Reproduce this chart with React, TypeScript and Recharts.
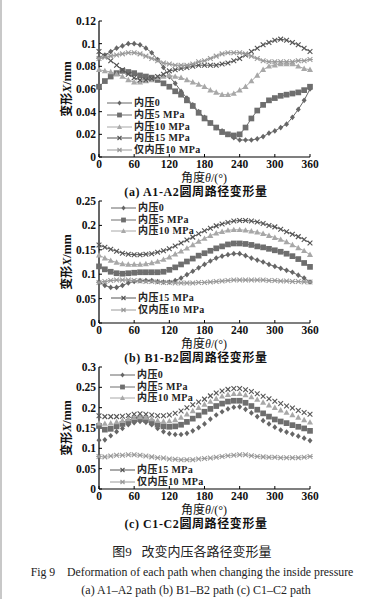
import React from 'react';
import { LineChart, Line, XAxis, YAxis } from 'recharts';

const SERIF = '"Liberation Serif", "Times New Roman", serif';
const CJK = '"Noto Sans CJK SC", sans-serif';

// angle categories, every 10 degrees
const angles = [
  0, 10, 20, 30, 40, 50, 60, 70, 80, 90, 100, 110, 120, 130, 140, 150, 160, 170, 180,
  190, 200, 210, 220, 230, 240, 250, 260, 270, 280, 290, 300, 310, 320, 330, 340, 350, 360,
];
const xTicks = [0, 60, 120, 180, 240, 300, 360];

const seriesNames = ['内压0', '内压5 MPa', '内压10 MPa', '内压15 MPa', '仅内压10 MPa'];
const seriesColors = ['#666666', '#6e6e6e', '#a8a8a8', '#555555', '#9a9a9a'];
const seriesShapes = ['diamond', 'square', 'triangle', 'cross', 'star'];

// (a) A1-A2
const a0 = [0.088, 0.09, 0.093, 0.096, 0.098, 0.1, 0.1, 0.099, 0.096, 0.092, 0.086, 0.079, 0.071, 0.065, 0.058, 0.052, 0.046, 0.04, 0.035, 0.03, 0.026, 0.023, 0.02, 0.017, 0.015, 0.015, 0.015, 0.016, 0.018, 0.021, 0.023, 0.026, 0.029, 0.035, 0.042, 0.05, 0.06];
const a5 = [0.062, 0.067, 0.071, 0.074, 0.076, 0.075, 0.074, 0.072, 0.071, 0.07, 0.068, 0.065, 0.062, 0.058, 0.055, 0.05, 0.045, 0.039, 0.034, 0.03, 0.026, 0.022, 0.02, 0.019, 0.02, 0.026, 0.034, 0.041, 0.046, 0.05, 0.052, 0.054, 0.055, 0.056, 0.057, 0.059, 0.062];
const a10 = [0.077, 0.076, 0.075, 0.073, 0.071, 0.068, 0.066, 0.066, 0.067, 0.068, 0.07, 0.071, 0.072, 0.071, 0.07, 0.068, 0.066, 0.064, 0.062, 0.059, 0.057, 0.055, 0.055, 0.056, 0.059, 0.062, 0.067, 0.072, 0.077, 0.08, 0.081, 0.082, 0.082, 0.082, 0.08, 0.078, 0.077];
const a15 = [0.093, 0.089, 0.085, 0.081, 0.077, 0.073, 0.07, 0.068, 0.068, 0.069, 0.071, 0.073, 0.076, 0.077, 0.078, 0.079, 0.08, 0.081, 0.081, 0.081, 0.081, 0.082, 0.083, 0.085, 0.087, 0.09, 0.093, 0.096, 0.099, 0.101, 0.103, 0.104, 0.103, 0.101, 0.099, 0.096, 0.093];
const aOnly = [0.087, 0.088, 0.089, 0.09, 0.091, 0.092, 0.092, 0.091, 0.089, 0.087, 0.085, 0.083, 0.082, 0.081, 0.081, 0.081, 0.082, 0.084, 0.085, 0.087, 0.089, 0.091, 0.092, 0.092, 0.092, 0.091, 0.089, 0.087, 0.085, 0.084, 0.084, 0.084, 0.084, 0.084, 0.085, 0.085, 0.086];

// (b) B1-B2
const b0 = [0.084, 0.077, 0.073, 0.073, 0.077, 0.082, 0.085, 0.087, 0.087, 0.087, 0.085, 0.084, 0.084, 0.087, 0.092, 0.099, 0.106, 0.113, 0.12, 0.127, 0.133, 0.137, 0.14, 0.142, 0.142, 0.138, 0.133, 0.129, 0.125, 0.12, 0.116, 0.112, 0.108, 0.104, 0.098, 0.092, 0.084];
const b5 = [0.116, 0.11, 0.105, 0.102, 0.101, 0.102, 0.103, 0.104, 0.104, 0.104, 0.104, 0.105, 0.109, 0.114, 0.12, 0.126, 0.132, 0.138, 0.143, 0.148, 0.153, 0.157, 0.161, 0.163, 0.163, 0.162, 0.16, 0.157, 0.155, 0.152, 0.149, 0.146, 0.142, 0.137, 0.131, 0.123, 0.115];
const b10 = [0.139, 0.133, 0.128, 0.124, 0.121, 0.12, 0.12, 0.12, 0.121, 0.123, 0.126, 0.13, 0.135, 0.141, 0.147, 0.153, 0.16, 0.167, 0.173, 0.179, 0.184, 0.187, 0.19, 0.191, 0.191, 0.19, 0.188, 0.186, 0.183, 0.179, 0.175, 0.171, 0.166, 0.16, 0.154, 0.148, 0.14];
const b15 = [0.16, 0.155, 0.151, 0.147, 0.143, 0.141, 0.14, 0.14, 0.141, 0.142, 0.145, 0.148, 0.152, 0.158, 0.164, 0.17, 0.176, 0.183, 0.189, 0.194, 0.199, 0.203, 0.206, 0.209, 0.21, 0.21, 0.209, 0.207, 0.204, 0.2, 0.197, 0.192, 0.187, 0.182, 0.177, 0.171, 0.164];
const bOnly = [0.083, 0.085, 0.087, 0.088, 0.088, 0.088, 0.087, 0.086, 0.085, 0.085, 0.084, 0.083, 0.083, 0.082, 0.082, 0.082, 0.082, 0.083, 0.083, 0.084, 0.085, 0.086, 0.087, 0.088, 0.088, 0.088, 0.088, 0.088, 0.088, 0.087, 0.087, 0.086, 0.086, 0.085, 0.085, 0.084, 0.084];

// (c) C1-C2
const c0 = [0.12, 0.121, 0.131, 0.141, 0.149, 0.158, 0.163, 0.166, 0.164, 0.158, 0.149, 0.141, 0.136, 0.134, 0.134, 0.137, 0.143, 0.151, 0.16, 0.172, 0.182, 0.19, 0.197, 0.201, 0.202, 0.196, 0.187, 0.178, 0.168, 0.16, 0.152, 0.145, 0.14, 0.135, 0.13, 0.125, 0.119];
const c5 = [0.155, 0.146, 0.148, 0.154, 0.16, 0.165, 0.17, 0.172, 0.17, 0.164, 0.158, 0.154, 0.153, 0.154, 0.158, 0.165, 0.173, 0.181, 0.19, 0.197, 0.204, 0.21, 0.215, 0.217, 0.217, 0.212, 0.204, 0.195, 0.186, 0.178, 0.171, 0.166, 0.162, 0.157, 0.153, 0.149, 0.143];
const c10 = [0.162, 0.161, 0.162, 0.165, 0.168, 0.172, 0.175, 0.177, 0.176, 0.172, 0.168, 0.166, 0.167, 0.17, 0.176, 0.184, 0.192, 0.2, 0.208, 0.215, 0.222, 0.228, 0.232, 0.234, 0.234, 0.231, 0.226, 0.22, 0.213, 0.206, 0.2, 0.194, 0.188, 0.182, 0.176, 0.17, 0.164];
const c15 = [0.18, 0.178, 0.178, 0.178, 0.179, 0.181, 0.184, 0.185, 0.184, 0.182, 0.18, 0.18, 0.182, 0.186, 0.192, 0.2, 0.207, 0.214, 0.221, 0.229, 0.236, 0.241, 0.245, 0.247, 0.247, 0.244, 0.24, 0.234, 0.228, 0.222, 0.216, 0.21, 0.204, 0.199, 0.193, 0.188, 0.184];
const cOnly = [0.08, 0.079, 0.081, 0.083, 0.083, 0.084, 0.084, 0.083, 0.081, 0.079, 0.077, 0.076, 0.074, 0.073, 0.072, 0.072, 0.072, 0.074, 0.075, 0.076, 0.078, 0.08, 0.082, 0.083, 0.084, 0.084, 0.082, 0.08, 0.079, 0.078, 0.078, 0.077, 0.077, 0.077, 0.077, 0.078, 0.08];

const yTicksA = [0, 0.02, 0.04, 0.06, 0.08, 0.1, 0.12];
const yTicksB = [0, 0.05, 0.1, 0.15, 0.2, 0.25];
const yTicksC = [0, 0.05, 0.1, 0.15, 0.2, 0.25, 0.3];

const keys = ['s0', 's5', 's10', 's15', 'only'];

function buildRows(series: number[][]) {
  return angles.map((angle, i) => {
    const row: any = { angle };
    keys.forEach((k, j) => (row[k] = series[j][i]));
    return row;
  });
}

const dataA = buildRows([a0, a5, a10, a15, aOnly]);
const dataB = buildRows([b0, b5, b10, b15, bOnly]);
const dataC = buildRows([c0, c5, c10, c15, cOnly]);

function Marker({ shape, color, cx, cy, s = 1 }: any) {
  if (cx == null || cy == null) return <g />;
  switch (shape) {
    case 'diamond':
      return <polygon points={`${cx},${cy - 3 * s} ${cx + 2.6 * s},${cy} ${cx},${cy + 3 * s} ${cx - 2.6 * s},${cy}`} fill={color} />;
    case 'square':
      return <rect x={cx - 3 * s} y={cy - 3 * s} width={6 * s} height={6 * s} fill={color} />;
    case 'triangle':
      return <polygon points={`${cx},${cy - 3.3 * s} ${cx + 3.2 * s},${cy + 2.4 * s} ${cx - 3.2 * s},${cy + 2.4 * s}`} fill={color} />;
    case 'cross':
      return (
        <g stroke={color} strokeWidth={1.1}>
          <line x1={cx - 2.5 * s} y1={cy - 2.5 * s} x2={cx + 2.5 * s} y2={cy + 2.5 * s} />
          <line x1={cx - 2.5 * s} y1={cy + 2.5 * s} x2={cx + 2.5 * s} y2={cy - 2.5 * s} />
        </g>
      );
    default:
      return (
        <g stroke={color} strokeWidth={1.1}>
          <line x1={cx - 2.5 * s} y1={cy - 2.5 * s} x2={cx + 2.5 * s} y2={cy + 2.5 * s} />
          <line x1={cx - 2.5 * s} y1={cy + 2.5 * s} x2={cx + 2.5 * s} y2={cy - 2.5 * s} />
          <line x1={cx - 3 * s} y1={cy} x2={cx + 3 * s} y2={cy} />
        </g>
      );
  }
}

const tickStyle = { fontFamily: SERIF, fontWeight: 'bold' as const, fontSize: 11.5, fill: '#111' };
const fmt = (v: number) => String(parseFloat(v.toFixed(2)));

function LegendItem({ idx, x, y, w }: any) {
  const color = seriesColors[idx];
  return (
    <div style={{ position: 'absolute', left: x, top: y - 5, height: 10, display: 'flex', alignItems: 'center', whiteSpace: 'nowrap', lineHeight: '10px' }}>
      <svg width={w} height={10} style={{ display: 'block' }}>
        <line x1={0} y1={5} x2={w} y2={5} stroke={color} strokeWidth={1} />
        <Marker shape={seriesShapes[idx]} color={color} cx={w / 2} cy={5} s={0.8} />
      </svg>
      <span
        style={{
          fontFamily: '"Liberation Serif", "Noto Sans CJK SC", serif',
          fontWeight: 'bold',
          fontSize: 10,
          lineHeight: '10px',
          color: '#222',
          marginLeft: 2,
          letterSpacing: 0.4,
        }}
      >
        {seriesNames[idx]}
      </span>
    </div>
  );
}

// single-line centred text block
function Label({ x, y, children, style }: any) {
  return (
    <div
      style={{
        position: 'absolute',
        left: x,
        top: y - 6,
        height: 12,
        transform: 'translateX(-50%)',
        whiteSpace: 'nowrap',
        color: '#111',
        lineHeight: '12px',
        ...style,
      }}
    >
      {children}
    </div>
  );
}

function Panel({ top, data, yMax, yTicks, plotH, connect, caption, legend }: any) {
  const mTop = 21;
  const xAxisH = 20;
  const height = mTop + plotH + xAxisH;
  const plotCenter = top + mTop + plotH / 2;
  const bottom = top + mTop + plotH;
  return (
    <>
      <div style={{ position: 'absolute', left: 0, top }}>
        <LineChart width={391} height={height} data={data} margin={{ top: mTop, right: 81, left: 0, bottom: 0 }}>
          <XAxis
            dataKey="angle"
            type="number"
            domain={[0, 360]}
            ticks={xTicks}
            tickSize={-3}
            tickMargin={6}
            height={xAxisH}
            tick={tickStyle}
            interval={0}
            axisLine={{ stroke: '#000', strokeWidth: 1.2 }}
            tickLine={{ stroke: '#000' }}
          />
          <XAxis xAxisId="top" orientation="top" dataKey="angle" type="number" domain={[0, 360]} height={0} tick={false} tickLine={false} axisLine={{ stroke: '#000', strokeWidth: 1.2 }} />
          <YAxis
            type="number"
            domain={[0, yMax]}
            ticks={yTicks}
            tickFormatter={fmt}
            tickSize={-3}
            tickMargin={6}
            width={99}
            tick={tickStyle}
            interval={0}
            axisLine={{ stroke: '#000', strokeWidth: 1.2 }}
            tickLine={{ stroke: '#000' }}
          />
          <YAxis yAxisId="right" orientation="right" type="number" domain={[0, yMax]} width={0} tick={false} tickLine={false} axisLine={{ stroke: '#000', strokeWidth: 1.2 }} />
          {keys.map((k, i) => (
            <Line
              key={k}
              dataKey={k}
              name={seriesNames[i]}
              type="linear"
              stroke={connect ? seriesColors[i] : 'none'}
              strokeWidth={1}
              isAnimationActive={false}
              activeDot={false}
              dot={(p: any) => <Marker key={`${k}-${p.index}`} shape={seriesShapes[i]} color={seriesColors[i]} cx={p.cx} cy={p.cy} s={0.95} />}
            />
          ))}
        </LineChart>
      </div>
      {/* y axis title */}
      <div
        style={{
          position: 'absolute',
          left: 67,
          top: plotCenter,
          transform: 'translate(-50%, -50%) rotate(-90deg)',
          whiteSpace: 'nowrap',
          color: '#111',
          lineHeight: '13px',
          fontFamily: '"Liberation Serif", "Noto Sans CJK SC", serif',
          fontSize: 12,
          fontWeight: 'bold',
        }}
      >
        变形<i>X</i>/mm
      </div>
      {/* x axis title */}
      <Label x={204} y={bottom + 21} style={{ fontFamily: '"Liberation Serif", "Noto Sans CJK SC", serif', fontSize: 12 }}>
        角度<i>θ</i>/(°)
      </Label>
      {/* caption */}
      <Label x={196} y={bottom + 35} style={{ fontFamily: '"Liberation Serif", "Noto Sans CJK SC", serif', fontSize: 12, fontWeight: 'bold', letterSpacing: 0.6 }}>
        {caption}
      </Label>
      {legend.map((it: any) => (
        <LegendItem key={it.idx} idx={it.idx} x={it.x} y={it.y} w={25} />
      ))}
    </>
  );
}

export default function App() {
  return (
    <div style={{ position: 'absolute', left: 0, top: 0, width: 391, height: 599, background: '#fff', overflow: 'hidden' }}>
      <div style={{ position: 'absolute', left: 0, top: 0, width: 2, height: 599, background: '#c8c8c8' }} />
      <Panel
        top={0}
        data={dataA}
        yMax={0.12}
        yTicks={yTicksA}
        plotH={136}
        connect
        caption="(a) A1-A2圆周路径变形量"
        legend={[
          { idx: 0, x: 107, y: 103 },
          { idx: 1, x: 107, y: 115 },
          { idx: 2, x: 107, y: 126.5 },
          { idx: 3, x: 107, y: 138 },
          { idx: 4, x: 107, y: 149.5 },
        ]}
      />
      <Panel
        top={180}
        data={dataB}
        yMax={0.25}
        yTicks={yTicksB}
        plotH={122}
        connect
        caption="(b) B1-B2圆周路径变形量"
        legend={[
          { idx: 0, x: 111, y: 208 },
          { idx: 1, x: 111, y: 219.5 },
          { idx: 2, x: 111, y: 231 },
          { idx: 3, x: 111, y: 298 },
          { idx: 4, x: 111, y: 309.5 },
        ]}
      />
      <Panel
        top={346}
        data={dataC}
        yMax={0.3}
        yTicks={yTicksC}
        plotH={122}
        connect={false}
        caption="(c) C1-C2圆周路径变形量"
        legend={[
          { idx: 0, x: 110, y: 375 },
          { idx: 1, x: 110, y: 386.5 },
          { idx: 2, x: 110, y: 398 },
          { idx: 3, x: 110, y: 470 },
          { idx: 4, x: 110, y: 481.5 },
        ]}
      />
      <Label x={192} y={551} style={{ fontFamily: '"Liberation Serif", "Noto Sans CJK SC", serif', fontSize: 13, color: '#222', height: 14, lineHeight: '14px' }}>
        图9&nbsp;&nbsp;&nbsp;改变内压各路径变形量
      </Label>
      <Label x={192} y={572} style={{ fontFamily: SERIF, fontSize: 11.8, color: '#222' }}>
        Fig 9&nbsp;&nbsp;&nbsp;&nbsp;Deformation of each path when changing the inside pressure
      </Label>
      <Label x={196} y={590} style={{ fontFamily: SERIF, fontSize: 12, color: '#222' }}>
        (a) A1–A2 path (b) B1–B2 path (c) C1–C2 path
      </Label>
    </div>
  );
}
